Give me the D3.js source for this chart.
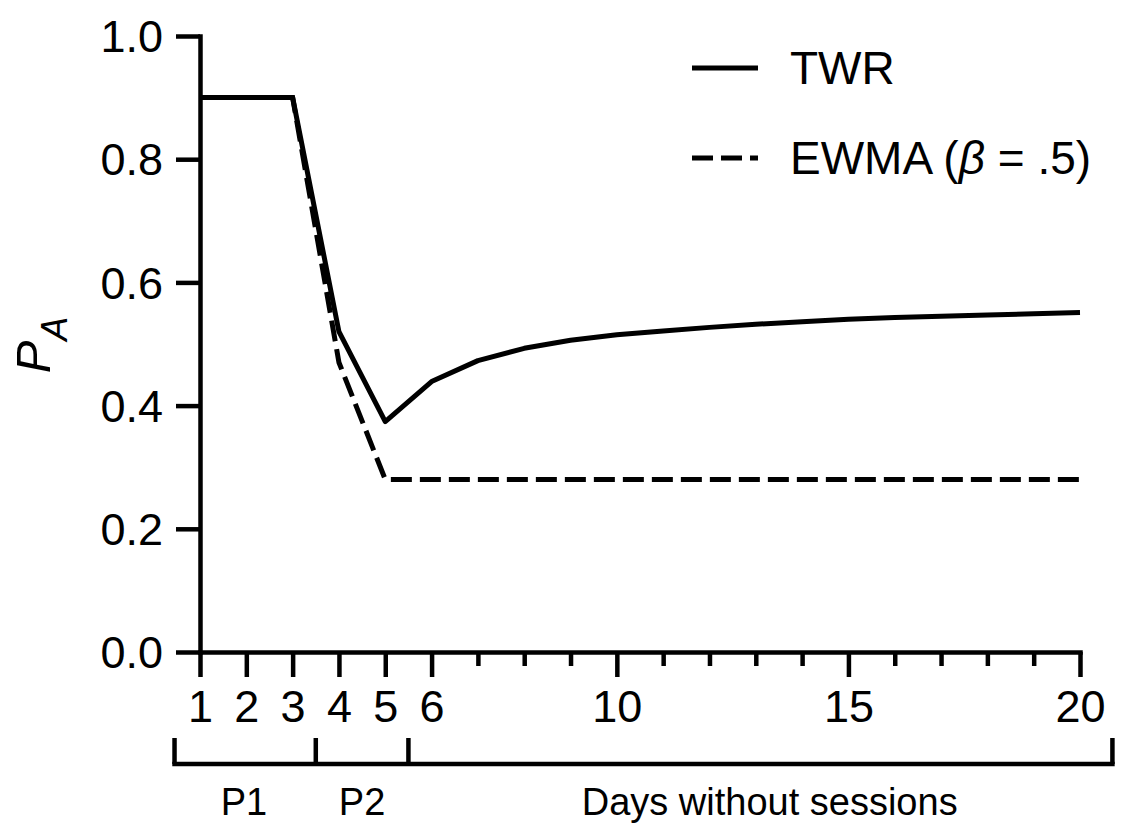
<!DOCTYPE html>
<html>
<head>
<meta charset="utf-8">
<script src="https://cdn.jsdelivr.net/npm/d3@7"></script>
<style>
  body { margin: 0; background: #fff; }
  text { font-family: "Liberation Sans", Arial, sans-serif; fill: #000; }
</style>
</head>
<body>
<div id="chart"></div>
<script>
// data
var days = d3.range(1, 21)
var twr  = [0.9, 0.9, 0.9, 0.52, 0.374, 0.439, 0.473, 0.493, 0.506, 0.515,
            0.521, 0.527, 0.532, 0.536, 0.540, 0.543, 0.545, 0.547, 0.549, 0.551]
var ewma = [0.9, 0.9, 0.9, 0.47, 0.28, 0.28, 0.28, 0.28, 0.28, 0.28,
            0.28, 0.28, 0.28, 0.28, 0.28, 0.28, 0.28, 0.28, 0.28, 0.28]
var majorTicks = [1, 2, 3, 4, 5, 6, 10, 15, 20]
var minorTicks = [7, 8, 9, 11, 12, 13, 14, 16, 17, 18, 19]
var yTicks = [0, 0.2, 0.4, 0.6, 0.8, 1.0]
// phase bracket: boundaries and label positions (in day units)
var phaseEdges = [0.45, 3.5, 5.5, 20.7]
var phaseNames = ["P1", "P2", "Days without sessions"]
var phaseLabelAt = [1.95, 4.5, 13.3]
var seriesNames = ["TWR", "EWMA"]

var width = 1126,
    height = 836

var svg = d3.select("#chart")
  .append("svg")
    .attr("width", width)
    .attr("height", height)

svg.append("rect").attr("width", width).attr("height", height).attr("fill", "#fff")

var x = d3.scaleLinear().domain([1, 20]).range([200, 1080])
var y = d3.scaleLinear().domain([0, 1]).range([652, 36])

// y axis
var yAxis = svg.append("g")
  .attr("transform", "translate(200,0)")
  .call(d3.axisLeft(y)
    .tickValues(yTicks)
    .tickFormat(d3.format(".1f"))
    .tickSize(24)
    .tickSizeOuter(0)
    .tickPadding(13))
yAxis.selectAll("path, line").attr("stroke", "#000").attr("stroke-width", 4.5)
yAxis.select(".domain").attr("stroke-linecap", "square")
yAxis.selectAll("text").attr("font-size", 45).attr("dy", "0.35em")
  .style("font-family", "'Liberation Sans', Arial, sans-serif")

// x axis (major ticks with labels)
var xAxis = svg.append("g")
  .attr("transform", "translate(0,652)")
  .call(d3.axisBottom(x)
    .tickValues(majorTicks)
    .tickSize(25)
    .tickSizeOuter(0)
    .tickPadding(45))
xAxis.selectAll("path, line").attr("stroke", "#000").attr("stroke-width", 4.5)
xAxis.select(".domain").attr("stroke-linecap", "square")
xAxis.selectAll("text").attr("font-size", 45).attr("dy", "0")
  .style("font-family", "'Liberation Sans', Arial, sans-serif")

// minor x ticks
var xMinor = svg.append("g")
  .attr("transform", "translate(0,652)")
  .call(d3.axisBottom(x)
    .tickValues(minorTicks)
    .tickSize(14)
    .tickSizeOuter(0)
    .tickFormat(""))
xMinor.select(".domain").remove()
xMinor.selectAll("line").attr("stroke", "#000").attr("stroke-width", 4.5)

// lines
var line = d3.line()
  .x(function(d) { return x(d[0]) })
  .y(function(d) { return y(d[1]) })

svg.append("path")
  .datum(days.map(function(d, i) { return [d, ewma[i]] }))
  .attr("d", line)
  .attr("fill", "none")
  .attr("stroke", "#000")
  .attr("stroke-width", 5)
  .attr("stroke-dasharray", "21,8")

svg.append("path")
  .datum(days.map(function(d, i) { return [d, twr[i]] }))
  .attr("d", line)
  .attr("fill", "none")
  .attr("stroke", "#000")
  .attr("stroke-width", 5)
  .attr("stroke-linejoin", "round")

// legend
var legend = svg.append("g")
var legendY = [68, 158]
legend.selectAll("line")
  .data(seriesNames)
  .enter()
  .append("line")
    .attr("x1", 692).attr("x2", 758)
    .attr("y1", function(d, i) { return legendY[i] })
    .attr("y2", function(d, i) { return legendY[i] })
    .attr("stroke", "#000")
    .attr("stroke-width", 5)
    .attr("stroke-dasharray", function(d, i) { return i == 0 ? null : "21,8" })

var ltext = legend.selectAll("text")
  .data(seriesNames)
  .enter()
  .append("text")
    .attr("x", 790)
    .attr("y", function(d, i) { return legendY[i] + 16 })
    .attr("font-size", 46)
    .text(function(d) { return d })
// second entry: EWMA (β = .5) with italic beta
var ew = d3.select(ltext.nodes()[1])
ew.append("tspan").text(" (")
ew.append("tspan").attr("font-style", "italic").text("\u03B2")
ew.append("tspan").text(" = .5)")

// y label P_A
var ylab = svg.append("text")
  .attr("transform", "translate(50,345) rotate(-90)")
  .attr("text-anchor", "middle")
ylab.append("tspan").attr("font-size", 49).attr("font-style", "italic").text("P")
ylab.append("tspan").attr("font-size", 36).attr("font-style", "italic").attr("dy", 17).text("A")

// phase bracket
var br = svg.append("g")
br.append("line")
  .attr("x1", x(phaseEdges[0])).attr("x2", x(phaseEdges[phaseEdges.length - 1]))
  .attr("y1", 764).attr("y2", 764)
  .attr("stroke", "#000").attr("stroke-width", 4.5).attr("stroke-linecap", "square")
br.selectAll(".edge")
  .data(phaseEdges)
  .enter()
  .append("line")
    .attr("class", "edge")
    .attr("x1", function(d) { return x(d) })
    .attr("x2", function(d) { return x(d) })
    .attr("y1", 738).attr("y2", 764)
    .attr("stroke", "#000").attr("stroke-width", 4.5)
br.selectAll("text")
  .data(phaseNames)
  .enter()
  .append("text")
    .attr("x", function(d, i) { return x(phaseLabelAt[i]) })
    .attr("y", 815)
    .attr("text-anchor", "middle")
    .attr("font-size", 38)
    .text(function(d) { return d })
</script>
</body>
</html>
